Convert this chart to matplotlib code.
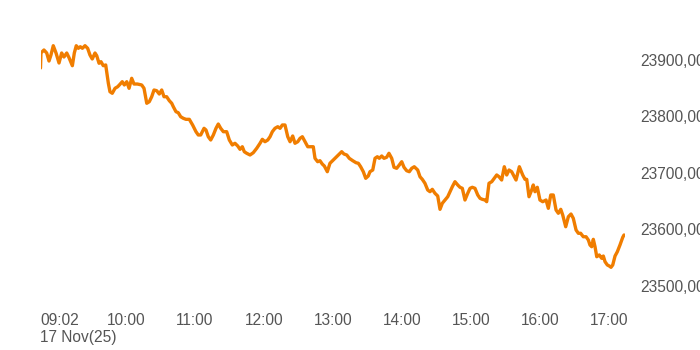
import matplotlib
matplotlib.use("Agg")
import matplotlib.pyplot as plt
from matplotlib.ticker import FixedLocator, FuncFormatter

# minutes after 09:00 on 17 Nov 2025
minutes = [
    2, 2.4, 5.0, 7.4, 9.4, 11.1, 13.1, 15.5, 18.1, 20.4, 22.4, 24.8, 26.8, 29.7, 31.4, 33.1,
    34.9, 36.6, 38.4, 40.7, 43.0, 45.0, 47.0, 49.4, 50.9, 52.9, 54.6, 56.6, 58.7, 61.0,
    62.4, 64.4, 66.8, 69.1, 71.1, 73.1, 74.9, 77.0, 79.0, 81.3, 83.3, 86.2, 90.0, 92.0,
    94.4, 96.6, 98.7, 100.7, 103.0, 105.3, 107.4, 109.4, 111.7, 114.0, 116.1, 117.5,
    119.8, 121.8, 123.9, 126.2, 128.5, 131.4, 134.3, 137.2, 139.2, 141.3, 144.2, 145.9,
    147.9, 150.0, 152.3, 154.6, 156.6, 158.7, 161.0, 163.9, 166.2, 168.8, 171.1, 173.5,
    175.5, 177.5, 179.2, 181.3, 184.2, 187.0, 190.0, 192.9, 194.9, 197.2, 199.6, 201.6,
    203.6, 205.9, 208.3, 210.3, 212.3, 214.6, 217.0, 219.0, 221.3, 223.3, 225.7, 227.7,
    229.7, 232.0, 234.4, 237.2, 239.2, 240.7, 243.0, 245.0, 247.0, 248.8, 251.4, 253.7,
    256.6, 259.6, 261.8, 263.9, 265.9, 268.3, 270.5, 273.5, 276.4, 278.4, 280.4, 282.7,
    284.8, 287.0, 288.5, 290.9, 292.9, 294.9, 296.6, 298.7, 300.7, 303.0, 305.0, 307.4,
    309.4, 311.7, 314.0, 316.1, 318.1, 320.4, 322.7, 324.8, 327.0, 330.0, 332.0, 334.0,
    336.3, 338.7, 340.7, 342.7, 345.0, 347.4, 349.4, 351.4, 353.7, 356.1, 358.1, 360.1,
    362.4, 364.8, 366.8, 368.8, 371.1, 373.5, 375.5, 377.5, 379.8, 382.2, 384.2, 386.2,
    388.5, 390.0, 392.0, 394.4, 396.6, 398.7, 400.7, 403.0, 405.3, 407.4, 409.4, 411.7,
    414.0, 415.5, 418.4, 421.3, 423.3, 424.8, 426.8, 429.1, 430.5, 432.0, 434.0, 436.3,
    438.7, 441.6, 443.6, 445.7, 447.9, 450.3, 452.3, 454.4, 456.1, 458.7, 461.0, 463.3,
    465.3, 467.7, 469.7, 471.7, 474.0, 476.4, 478.4, 479.8, 481.3, 482.7, 484.2, 485.7,
    487.9, 490.0, 491.4, 492.9, 494.9, 496.6, 498.1, 499.6, 501.6, 503.6, 505.9, 508.3,
    509.4,
]

prices = [
    23885.8, 23912.4, 23917.7, 23912.4, 23898.2, 23908.9, 23925.3, 23912.4, 23894.7,
    23912.4, 23905.3, 23912.4, 23904.1, 23889.9, 23912.4, 23925.3, 23920.7, 23923.5,
    23920.7, 23925.3, 23920.7, 23908.9, 23901.8, 23912.4, 23907.6, 23894.2, 23897.0,
    23889.9, 23891.2, 23858.8, 23843.9, 23841.1, 23849.9, 23852.7, 23857.0, 23861.6,
    23855.8, 23861.6, 23849.9, 23867.6, 23857.5, 23857.5, 23855.8, 23849.9, 23823.4,
    23826.2, 23835.0, 23846.9, 23845.7, 23839.8, 23846.9, 23835.0, 23835.0, 23828.0,
    23823.4, 23817.3, 23808.5, 23806.7, 23799.6, 23796.8, 23795.0, 23795.0, 23784.9,
    23773.1, 23767.3, 23767.3, 23779.1, 23776.1, 23764.2, 23758.4, 23767.3, 23779.1,
    23786.7, 23779.1, 23773.1, 23773.1, 23758.4, 23749.6, 23752.6, 23747.8, 23741.9,
    23746.5, 23737.7, 23734.9, 23731.9, 23735.9, 23743.7, 23752.6, 23759.6, 23755.4,
    23758.4, 23764.2, 23773.1, 23779.1, 23781.9, 23779.1, 23785.0, 23785.0, 23764.2,
    23755.4, 23765.5, 23752.6, 23755.4, 23761.4, 23764.2, 23755.4, 23746.5, 23746.5,
    23746.5, 23726.0, 23720.0, 23721.8, 23715.9, 23712.4, 23702.3, 23717.2, 23723.0,
    23728.8, 23733.6, 23737.7, 23733.6, 23731.9, 23726.0, 23721.8, 23718.2, 23717.2,
    23711.1, 23702.3, 23690.6, 23694.7, 23702.3, 23705.3, 23726.0, 23728.8, 23726.0,
    23730.1, 23726.0, 23727.8, 23734.9, 23726.0, 23710.1, 23708.3, 23714.2, 23720.0,
    23710.1, 23704.1, 23702.3, 23708.3, 23711.1, 23705.3, 23693.4, 23688.8, 23681.8,
    23669.9, 23666.9, 23671.1, 23664.1, 23659.3, 23635.7, 23646.4, 23652.2, 23658.0,
    23666.9, 23675.7, 23684.6, 23678.8, 23674.7, 23672.9, 23652.2, 23664.1, 23672.9,
    23674.7, 23672.9, 23661.1, 23655.2, 23653.4, 23652.2, 23649.2, 23681.8, 23684.6,
    23690.6, 23696.5, 23693.4, 23687.6, 23711.1, 23696.5, 23705.3, 23702.3, 23693.4,
    23687.6, 23711.1, 23696.5, 23688.8, 23688.8, 23658.0, 23669.9, 23678.8, 23666.9,
    23674.7, 23652.2, 23649.2, 23652.2, 23637.5, 23661.1, 23661.1, 23634.5, 23628.7,
    23635.7, 23625.7, 23604.9, 23622.6, 23627.4, 23619.8, 23599.1, 23593.3, 23593.3,
    23587.2, 23587.2, 23581.4, 23572.6, 23569.5, 23582.6, 23569.5, 23551.8, 23554.9,
    23549.0, 23553.1, 23543.0, 23537.2, 23535.4, 23533.1, 23537.2, 23553.1, 23560.7,
    23572.6, 23586.2, 23590.3,
]

x_tick_minutes = [2, 60, 120, 180, 240, 300, 360, 420, 480]
x_tick_labels = ["09:02", "10:00", "11:00", "12:00", "13:00", "14:00", "15:00", "16:00", "17:00"]
y_ticks = [23500, 23600, 23700, 23800, 23900]
date_label = "17 Nov(25)"

plt.rcParams["font.family"] = ["Liberation Sans", "DejaVu Sans"]
W, H = 700, 350
fig = plt.figure(figsize=(7, 3.5), dpi=100)
left_px, right_px = 40.5, 624.7
top_px, bot_px = 37.4, 297.3
ax = fig.add_axes([left_px / W, 1 - bot_px / H, (right_px - left_px) / W, (bot_px - top_px) / H])
ax.plot(minutes, prices, color="#F07D00", lw=2.4, solid_joinstyle="round", solid_capstyle="round")
ax.set_xlim(2, 510)
ax.set_ylim(23480, 23940)
for s in ax.spines.values():
    s.set_visible(False)

txt_color = "#555555"
fs = 11.2
ax.xaxis.set_major_locator(FixedLocator(x_tick_minutes))
ax.set_xticklabels(x_tick_labels)
ax.tick_params(axis="x", length=0, pad=11.5, labelsize=fs, labelcolor=txt_color)
for lab in ax.get_xticklabels():
    lab.set_horizontalalignment("left")

ax.yaxis.tick_right()
ax.yaxis.set_major_locator(FixedLocator(y_ticks))
ax.yaxis.set_major_formatter(FuncFormatter(lambda v, p: f"{v:.2f}".replace(".", ",")))
ax.tick_params(axis="y", length=0, pad=11, labelsize=fs, labelcolor=txt_color)

fig.text(left_px / W, 1 - 337.5 / H, date_label, fontsize=fs, color=txt_color, ha="left", va="center")

fig.savefig("out.png", dpi=100)
